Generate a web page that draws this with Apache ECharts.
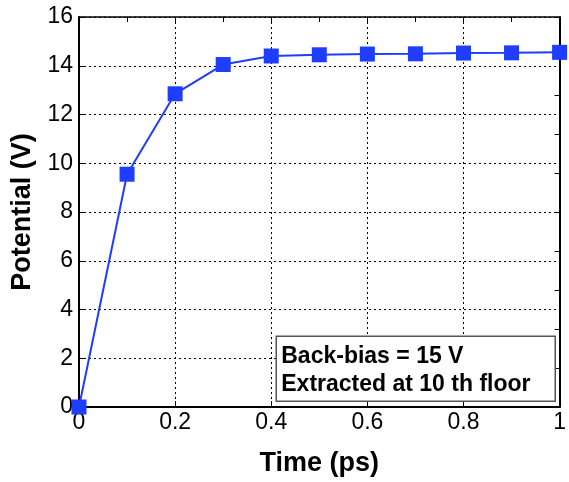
<!DOCTYPE html>
<html>
<head>
<meta charset="utf-8">
<script src="https://cdn.jsdelivr.net/npm/echarts@6/dist/echarts.min.js"></script>
<style>
  html, body { margin: 0; padding: 0; background: #fff; }
  #chart { width: 569px; height: 482px; }
</style>
</head>
<body>
<div id="chart"></div>
<script>
// time (ps) and extracted potential (V)
var times = [0, 0.1, 0.2, 0.3, 0.4, 0.5, 0.6, 0.7, 0.8, 0.9, 1.0];
var potential = [0, 9.55, 12.85, 14.05, 14.4, 14.45, 14.48, 14.49, 14.52, 14.53, 14.55];
var noteLines = ["Back-bias = 15 V", "Extracted at 10 th floor"];

var font = "'Liberation Sans', Arial, sans-serif";
var myChart = echarts.init(document.getElementById("chart"));

var option = {
    animation: false,
    grid: { left: 79, right: 7, top: 17, bottom: 74 },
    xAxis: [{
        type: "value",
        min: 0, max: 1, interval: 0.2,
        name: "Time (ps)",
        nameLocation: "middle",
        nameGap: 43,
        nameTextStyle: { fontFamily: font, fontSize: 27, fontWeight: "bold", color: "#000" },
        axisLine: { lineStyle: { color: "#000", width: 2 } },
        axisTick: { inside: true, length: 6, lineStyle: { color: "#000" } },
        axisLabel: { fontFamily: font, fontSize: 23, color: "#000", margin: 4 },
        splitLine: { show: true, lineStyle: { color: "#000", type: [2, 3], width: 1 } }
    }, {
        // top frame edge
        type: "value",
        position: "top",
        min: 0, max: 1, interval: 0.1,
        axisLine: { show: true, onZero: false, lineStyle: { color: "#000", width: 1.5 } },
        axisTick: { inside: true, length: 5, lineStyle: { color: "#000" } },
        axisLabel: { show: false },
        splitLine: { show: false }
    }],
    yAxis: [{
        type: "value",
        min: 0, max: 16, interval: 2,
        name: "Potential (V)",
        nameLocation: "middle",
        nameGap: 36,
        nameTextStyle: { fontFamily: font, fontSize: 27, fontWeight: "bold", color: "#000" },
        axisLine: { show: true, lineStyle: { color: "#000", width: 2 } },
        axisTick: { show: true, inside: true, length: 6, lineStyle: { color: "#000" } },
        axisLabel: { fontFamily: font, fontSize: 23, color: "#000", margin: 6 },
        splitLine: { show: true, lineStyle: { color: "#000", type: [2, 3], width: 1 } }
    }, {
        // right frame edge
        type: "value",
        position: "right",
        min: 0, max: 10, interval: 1,
        axisLine: { show: true, onZero: false, lineStyle: { color: "#000", width: 2 } },
        axisTick: { show: true, inside: true, length: 5, lineStyle: { color: "#000" } },
        axisLabel: { show: false },
        splitLine: { show: false }
    }],
    series: [{
        type: "line",
        xAxisIndex: 0,
        yAxisIndex: 0,
        data: times.map(function (t, i) { return [t, potential[i]]; }),
        symbol: "rect",
        symbolSize: 15,
        lineStyle: { color: "#1f3dff", width: 2 },
        itemStyle: { color: "#1f3dff" }
    }],
    graphic: [{
        type: "group",
        right: 13,
        bottom: 80,
        z: 100,
        children: [{
            type: "rect",
            z: 100,
            shape: { x: 0, y: 0, width: 279, height: 65 },
            style: { fill: "#fff", stroke: "#555", lineWidth: 1.5 }
        }, {
            type: "text",
            z: 101,
            x: 5, y: 9,
            style: { text: noteLines[0], font: "bold 23px " + font, fill: "#000" }
        }, {
            type: "text",
            z: 101,
            x: 5, y: 37,
            style: { text: noteLines[1], font: "bold 23px " + font, fill: "#000" }
        }]
    }]
};
myChart.setOption(option);
</script>
</body>
</html>
